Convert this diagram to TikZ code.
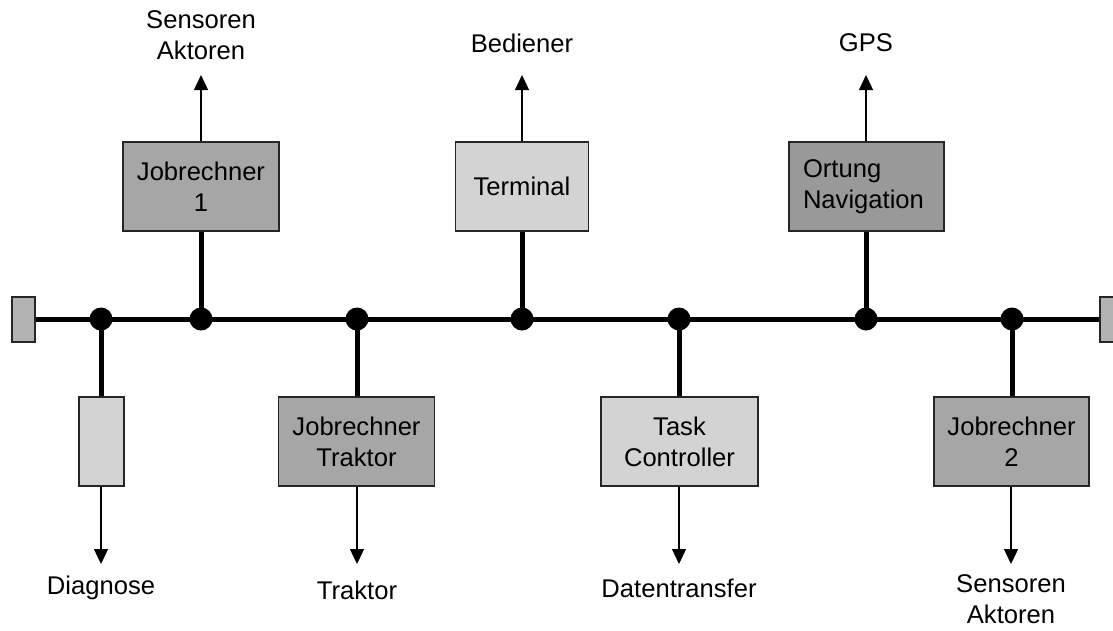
\documentclass[tikz,border=0pt]{standalone}
\usepackage{fontspec}
\setmainfont{Liberation Sans}
\usetikzlibrary{arrows.meta}
\definecolor{darkbox}{HTML}{A6A6A6}
\definecolor{darkerbox}{HTML}{999999}
\definecolor{lightbox}{HTML}{D3D3D3}
\definecolor{termbox}{HTML}{B3B3B3}
\begin{document}
\begin{tikzpicture}[x=1pt,y=-1pt,
  every node/.style={font=\fontsize{25.6}{31}\selectfont, inner sep=0pt},
  ecu/.style={draw=black!85, line width=1.3pt, minimum width=156pt, minimum height=89pt, align=center},
  darkecu/.style={ecu, fill=darkbox},
  lightecu/.style={ecu, fill=lightbox},
  term/.style={draw=black!85, line width=1.3pt, fill=termbox, minimum width=23pt, minimum height=45pt},
  junction/.style={circle, fill=black, minimum size=23pt},
  busline/.style={line width=5pt},
  stub/.style={line width=5pt},
  signal/.style={line width=1.3pt, -{Triangle[width=14pt,length=15pt]}},
  lbl/.style={align=center}]
\useasboundingbox (0,0) rectangle (1113,630);
% terminators
\node[term] (tl) at (23.5,319.5) {};
\node[term] (tr) at (1111.5,319.5) {};
% bus
\draw[busline] (tl.east) -- (tr.west);
% junctions
\node[junction] (j1) at (101,319) {};
\node[junction] (j2) at (201,319) {};
\node[junction] (j3) at (357,319) {};
\node[junction] (j4) at (522,319) {};
\node[junction] (j5) at (679,319) {};
\node[junction] (j6) at (866,319) {};
\node[junction] (j7) at (1012,319) {};
% boxes
\node[lightecu, minimum width=45pt] (diag) at (101.5,441.5) {};
\node[darkecu] (jr1) at (201,186.5) {Jobrechner\\1};
\node[lightecu, minimum width=133pt] (termi) at (522,186.5) {Terminal};
\node[ecu, fill=darkerbox, minimum width=155pt, align=left, text width=127pt] (ort) at (866.5,186.5) {Ortung\\Navigation};
\node[darkecu] (jrt) at (356.5,441.5) {Jobrechner\\Traktor};
\node[lightecu, minimum width=157pt] (task) at (679.5,441.5) {Task\\Controller};
\node[darkecu, minimum width=155pt] (jr2) at (1011.5,441.5) {Jobrechner\\2};
% stubs
\draw[stub] (j1.center) -- (j1.center |- diag.north);
\draw[stub] (j2.center) -- (j2.center |- jr1.south);
\draw[stub] (j3.center) -- (j3.center |- jrt.north);
\draw[stub] (j4.center) -- (j4.center |- termi.south);
\draw[stub] (j5.center) -- (j5.center |- task.north);
\draw[stub] (j6.center) -- (j6.center |- ort.south);
\draw[stub] (j7.center) -- (j7.center |- jr2.north);
% arrow ends
\coordinate (a1) at (201,75);
\coordinate (a2) at (522,75);
\coordinate (a3) at (866,75);
\coordinate (b1) at (101,564);
\coordinate (b2) at (357,564);
\coordinate (b3) at (679,564);
\coordinate (b4) at (1011,564);
\draw[signal] (jr1.north -| a1) -- (a1);
\draw[signal] (termi.north -| a2) -- (a2);
\draw[signal] (ort.north -| a3) -- (a3);
\draw[signal] (diag.south -| b1) -- (b1);
\draw[signal] (jrt.south -| b2) -- (b2);
\draw[signal] (task.south -| b3) -- (b3);
\draw[signal] (jr2.south -| b4) -- (b4);
% labels
\node[lbl] (l1) at (201,35) {Sensoren\\Aktoren};
\node[lbl] (l2) at (522,43) {Bediener};
\node[lbl] (l3) at (866,43) {GPS};
\node[lbl] (l4) at (101,588) {Diagnose};
\node[lbl] (l5) at (357,590) {Traktor};
\node[lbl] (l6) at (679,588) {Datentransfer};
\node[lbl] (l7) at (1011,599) {Sensoren\\Aktoren};
\end{tikzpicture}
\end{document}
